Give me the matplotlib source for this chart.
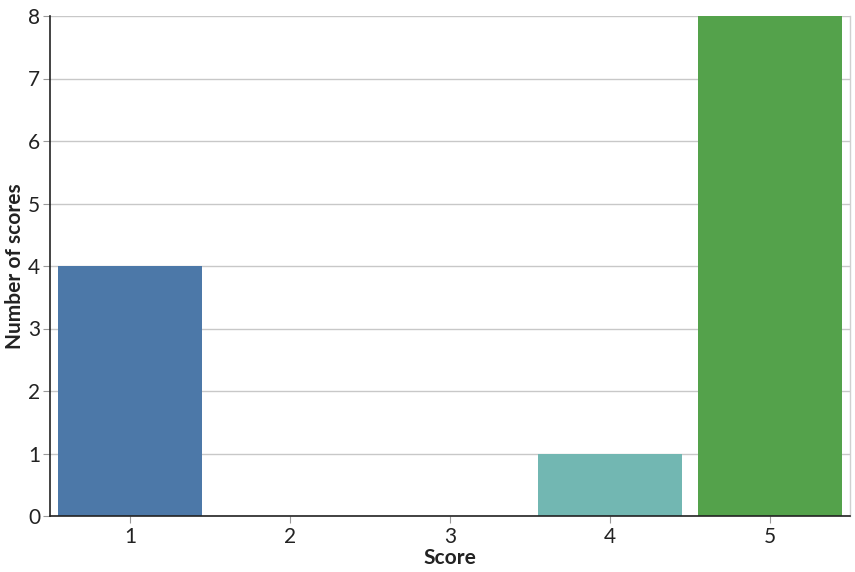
import matplotlib
matplotlib.use("Agg")
import matplotlib.pyplot as plt

plt.rcParams['font.family'] = ['Lato', 'DejaVu Sans']

# data
scores = [1, 2, 3, 4, 5]
counts = [4, 0, 0, 1, 8]
colors = ['#4c78a8', '#4c78a8', '#4c78a8', '#72b7b2', '#54a24b']
yticks = [0, 1, 2, 3, 4, 5, 6, 7, 8]

fig = plt.figure(figsize=(8.55, 5.72), dpi=100)
ax = fig.add_axes([50/855, 56/572, 800/855, 500/572])

ax.bar(scores, counts, width=0.9, color=colors, zorder=2)

ax.set_xlim(0.5, 5.5)
ax.set_ylim(0, 8)
ax.set_xticks(scores)
ax.set_yticks(yticks)
ax.grid(axis='y', color='#c8c8c8', lw=1, zorder=0)

for s in ['left', 'bottom']:
    ax.spines[s].set_color('#222222')
    ax.spines[s].set_linewidth(1.2)
ax.spines['top'].set_visible(False)
ax.spines['right'].set_color('#d0d0d0')
ax.spines['right'].set_linewidth(1)

ax.tick_params(axis='both', which='both', length=5, color='#999999',
               labelsize=15, labelcolor='#222222', width=0.8)
ax.tick_params(axis='y', pad=2)
ax.tick_params(axis='x', pad=3)

ax.set_xlabel("Score", fontsize=15, fontweight='bold', color='#222222', labelpad=1)
ax.set_ylabel("Number of scores", fontsize=15, fontweight='bold', color='#222222', labelpad=2)

plt.savefig("out.png", dpi=100)
